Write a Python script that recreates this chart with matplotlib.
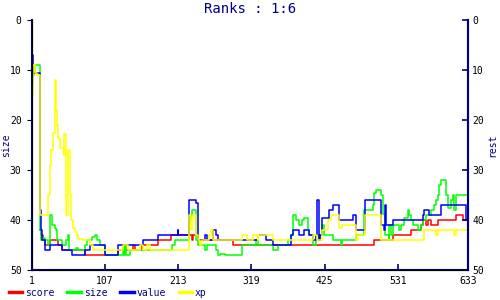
import matplotlib
matplotlib.use("Agg")
import matplotlib.pyplot as plt

# turn number where the rank changes, and the rank held from there (steps)
score_x = [13, 14, 17, 20, 27, 39, 45, 78, 126, 148, 151, 161, 183, 202, 228, 233,
           235, 241, 293, 497, 524, 550, 565, 568, 572, 575, 579, 589, 615, 626, 633]
score_y = [42, 43, 44, 45, 44, 45, 46, 47, 46, 45, 46, 45, 44, 43, 43, 44,
           43, 44, 45, 44, 43, 42, 41, 40, 41, 40, 41, 40, 39, 40, 40]

size_x = [1, 2, 4, 6, 12, 13, 14, 17, 20, 24, 27, 30, 34, 36, 37, 45, 51, 53, 55,
          63, 65, 68, 78, 81, 88, 93, 95, 100, 107, 133, 134, 136, 137, 143, 204,
          209, 228, 231, 233, 238, 242, 252, 255, 267, 270, 274, 281, 306, 325,
          329, 351, 357, 372, 376, 379, 380, 383, 388, 393, 395, 401, 402, 408,
          412, 417, 419, 422, 424, 437, 449, 451, 463, 470, 482, 495, 497, 499,
          507, 510, 513, 518, 519, 521, 524, 533, 536, 540, 546, 547, 550, 553,
          560, 565, 568, 572, 579, 584, 587, 589, 591, 594, 601, 604, 608, 611,
          613, 615, 633]
size_y = [12.5, 11, 10.5, 9, 9, 42, 44, 43.5, 44, 45, 39, 41, 41.5, 42, 44, 45,
          44, 43, 46, 46, 45.5, 46, 45, 44, 43.3, 43, 44, 45, 47, 45, 47, 45, 47,
          46, 45, 44, 40, 39, 38, 44, 45, 46, 45, 46, 47, 46.7, 47, 45, 44, 45,
          46, 45, 44, 43, 39.5, 39, 40, 41, 40, 39.5, 42, 43, 45, 43, 44, 43, 41,
          43, 44, 45, 44, 44, 43, 38, 37, 34.5, 34, 35, 38.7, 43, 44, 41, 43, 41,
          42, 41, 39.5, 38, 39, 40, 41, 42, 41, 40, 39, 38, 37, 36, 35, 33, 32,
          35, 37.5, 36, 35, 38, 35, 35]

value_x = [1, 2, 12, 13, 14, 16, 20, 27, 45, 59, 78, 85, 107, 125, 162, 183, 212,
           213, 228, 229, 238, 241, 252, 255, 264, 267, 270, 329, 340, 351, 376,
           380, 388, 395, 402, 408, 412, 414, 417, 419, 422, 431, 438, 446, 466,
           467, 470, 484, 507, 511, 513, 514, 524, 568, 569, 576, 594, 630, 633]
value_y = [7, 10.5, 24, 38, 42, 44, 46, 45, 46, 47, 46, 45, 47, 45, 44, 43, 42,
           43, 37, 36, 36.5, 44, 43, 44, 42, 43, 44, 43, 44, 45, 43, 42, 43, 42,
           43, 44, 43, 36, 44, 43, 39.5, 38, 37, 40, 39, 39, 42, 36, 41, 42, 37,
           41, 40, 39, 38, 39, 37, 40, 40]

xp_x = [1, 2, 5, 8, 13, 24, 27, 29, 32, 34, 35, 36, 37, 39, 42, 47, 48, 50, 51,
        53, 56, 58, 61, 63, 66, 68, 75, 85, 90, 133, 140, 158, 162, 168, 172, 228,
        231, 233, 235, 238, 241, 245, 248, 258, 261, 263, 264, 306, 313, 322, 328,
        329, 351, 408, 414, 422, 430, 434, 446, 451, 470, 473, 483, 507, 569, 587,
        589, 613, 615, 633]
xp_y = [15, 9, 10.5, 11, 39, 35, 29, 26, 22.5, 15, 12, 18, 21, 23.5, 25.5, 27,
        22.7, 26, 39, 26, 35, 40, 41.5, 42.3, 43, 43.7, 44, 45, 46, 45, 46, 45, 46,
        45, 46, 39, 42, 40, 39, 43, 44, 45, 44, 43, 42, 43, 44, 43, 44, 43, 44, 43,
        44, 43, 44, 42, 40, 39, 41.5, 41, 44, 43, 39, 44, 42, 43, 42, 43, 42, 42]

x_ticks = [1, 107, 213, 319, 425, 531, 633]
y_ticks = [0, 10, 20, 30, 40, 50]

navy = "#000080"
mono = "DejaVu Sans Mono"

fig = plt.figure(figsize=(5, 3), dpi=100)
ax = fig.add_axes([0.064, 0.1, 0.872, 0.8333])

series = [("score", score_x, score_y, "#ff0000"),
          ("size", size_x, size_y, "#00ff00"),
          ("value", value_x, value_y, "#0000ff"),
          ("xp", xp_x, xp_y, "#ffff00")]
for name, xs, ys, col in series:
    ax.step(xs, ys, where="post", color=col, lw=1.1, label=name)

ax.set_xlim(1, 633)
ax.set_ylim(50, 0)
ax.set_xticks(x_ticks)
ax.set_yticks(y_ticks)

for s in ("left", "right", "bottom"):
    ax.spines[s].set_color(navy)
    ax.spines[s].set_linewidth(1.5)
ax.spines["top"].set_visible(False)

ax.tick_params(axis="x", direction="in", length=4, width=1.2, color=navy,
               labelsize=7, pad=4)
ax.tick_params(axis="y", left=False, right=False, labelsize=7, pad=4)
for lab in ax.get_xticklabels() + ax.get_yticklabels():
    lab.set_family(mono)

ax.set_ylabel("size", color=navy, fontsize=7, family=mono)
ax.yaxis.set_label_coords(-0.048, 0.5)

ax2 = ax.twinx()
ax2.set_ylim(50, 0)
ax2.set_yticks(y_ticks)
ax2.spines["top"].set_visible(False)
ax2.spines["right"].set_color(navy)
ax2.spines["right"].set_linewidth(1.5)
ax2.tick_params(axis="y", direction="in", length=4, width=1.2, color=navy,
                labelsize=7, pad=3)
for lab in ax2.get_yticklabels():
    lab.set_family(mono)
ax2.set_ylabel("rest", color=navy, fontsize=7, family=mono)
ax2.yaxis.set_label_coords(1.045, 0.5)

ax.set_title("Ranks : 1:6", color=navy, fontsize=10, family=mono, pad=5)

leg = fig.legend(loc="lower left", bbox_to_anchor=(0.0, -0.022), ncol=4,
                 frameon=False, handlelength=1.4, handletextpad=0.3,
                 columnspacing=1.3, prop={"family": mono, "size": 7})
for t in leg.get_texts():
    t.set_color(navy)
for h in leg.get_lines():
    h.set_linewidth(2.5)

fig.savefig("out.png", dpi=100)
